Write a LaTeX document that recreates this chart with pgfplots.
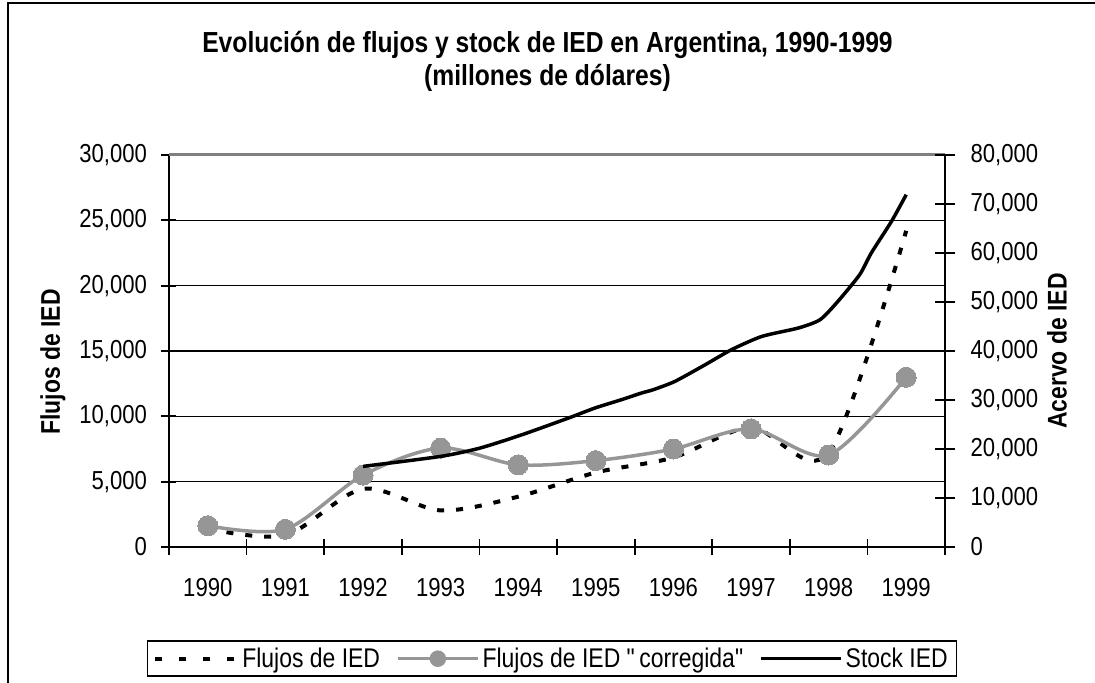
\documentclass[border=0pt]{standalone}
\usepackage{pgfplots}
\pgfplotsset{compat=1.18}
\usepackage{fontspec}
\setmainfont{Liberation Sans}[FakeStretch=0.85]
\newfontfamily\qfont{Liberation Sans}[FakeStretch=0.85, Ligatures=TeXOff]
\definecolor{corr}{HTML}{969696}
\definecolor{topline}{HTML}{808080}

\pgfplotstableread{
x y
0 1400
1 900
2 4450
3 2800
4 3850
5 5700
6 6850
7 9150
8 7200
9 24200
}\flujos

\pgfplotstableread{
x y
0 1630
1 1355
2 5500
3 7570
4 6290
5 6610
6 7500
7 9040
8 7040
9 12990
}\corregida

\pgfplotstableread{
x y
2.00 16450
3.00 18490
3.51 20200
4.05 22920
4.65 26330
4.99 28370
5.33 30060
5.59 31430
5.74 32100
6.02 33800
6.41 37200
6.75 40280
7.14 42980
7.61 44690
7.89 46390
8.12 50130
8.40 55570
8.55 60000
8.81 66450
9.00 71900
}\stock

\begin{document}
\begin{tikzpicture}[font=\fontsize{25bp}{30bp}\selectfont]
\useasboundingbox (-169bp,-136bp) rectangle (926bp,547bp);
\draw[line width=2bp] (-161bp,-140bp) -- (-161bp,544bp) -- (930bp,544bp);
\node[font=\bfseries\fontsize{29bp}{33bp}\selectfont, align=center] at (378.5bp,486bp)
  {Evolución de flujos y stock de IED en Argentina, 1990-1999\\(millones de dólares)};

\begin{axis}[
  at={(0,0)}, anchor=south west,
  scale only axis, width=776bp, height=392bp,
  xmin=-0.5, xmax=9.5, ymin=0, ymax=30000,
  axis x line*=bottom, axis y line*=left,
  axis line style={line width=1.8bp, -},
  xtick={0,...,9},
  xticklabels={1990,1991,1992,1993,1994,1995,1996,1997,1998,1999},
  minor xtick={-0.5,0.5,...,9.5},
  major x tick style={draw=none},
  minor tick length=16bp,
  major tick length=15bp,
  tick align=center,
  tick style={line width=1.8bp, black},
  ytick={0,5000,...,30000},
  scaled y ticks=false,
  ymajorgrids, grid style={line width=1.5bp, black},
  tick label style={font=\fontsize{26bp}{30bp}\selectfont},
  xticklabel style={yshift=-20bp},
  yticklabel style={xshift=-11bp},
  /pgf/number format/.cd, fixed, 1000 sep={,}, assume math mode=true,
  /pgfplots/.cd,
  ylabel={\bfseries Flujos de IED},
  ylabel style={font=\fontsize{27bp}{30bp}\selectfont, at={(axis description cs:-0.1495,0.472)}, anchor=center, rotate=0},
  legend columns=3,
  legend style={at={(axis description cs:0.4936,-0.3316)}, anchor=south,
    draw=black, line width=1.5bp, inner xsep=6bp, inner ysep=4bp,
    font=\fontsize{27bp}{30bp}\selectfont,
    /tikz/every even column/.append style={column sep=13bp},
    nodes={inner sep=3bp}},
  clip=false,
]
\addplot[black, line width=4bp, dash pattern=on 7bp off 12bp, smooth,
  legend image code/.code={\draw[black, line width=4bp, dash pattern=on 7bp off 17bp] (0bp,0bp) -- (82bp,0bp);}]
  table[x=x,y=y]{\flujos};
\addlegendentry{Flujos de IED}
\addplot[corr, line width=3.5bp, smooth, mark=*, mark size=10bp, mark options={fill=corr, draw=corr, line width=0bp},
  legend image code/.code={\draw[corr, line width=3.5bp] (0bp,0bp) -- (80bp,0bp); \fill[corr] (40bp,0bp) circle (6.5bp);}]
  table[x=x,y=y]{\corregida};
\addlegendentry{Flujos de IED {\qfont"}\,corregida{\qfont"}}
\addlegendimage{black, line width=3.5bp, legend image code/.code={\draw[black, line width=3.5bp] (0bp,0bp) -- (80bp,0bp);}}
\addlegendentry{Stock IED}
\draw[topline, line width=3bp] (rel axis cs:0,1) -- (rel axis cs:1,1);
\end{axis}

\begin{axis}[
  at={(0,0)}, anchor=south west,
  scale only axis, width=776bp, height=392bp,
  xmin=-0.5, xmax=9.5, ymin=0, ymax=80000,
  axis x line=none, axis y line*=right,
  axis line style={line width=1.8bp, -},
  ytick={0,10000,...,80000},
  scaled y ticks=false,
  major tick length=20bp,
  tick align=center,
  tick style={line width=1.8bp, black},
  tick label style={font=\fontsize{26bp}{30bp}\selectfont},
  yticklabel style={xshift=12bp},
  /pgf/number format/.cd, fixed, 1000 sep={,}, assume math mode=true,
  /pgfplots/.cd,
  ylabel={\bfseries Acervo de IED},
  ylabel style={font=\fontsize{27bp}{30bp}\selectfont, at={(axis description cs:1.1443,0.5)}, anchor=center, rotate=0},
  clip=false,
]
\addplot[black, line width=3.5bp, smooth, tension=0.4] table[x=x,y=y]{\stock};
\end{axis}
\end{tikzpicture}
\end{document}
